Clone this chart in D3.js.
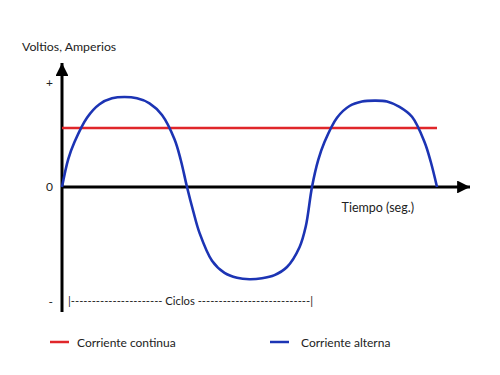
<!DOCTYPE html>
<html>
<head>
<meta charset="utf-8">
<script src="https://cdn.jsdelivr.net/npm/d3@7"></script>
<style>
  body { margin: 0; background: #fff; }
  text { font-family: Lato, "Open Sans", sans-serif; fill: #222; }
</style>
</head>
<body>
<svg id="chart" width="500" height="375"></svg>
<script>
// datos (tiempo en semiciclos, valor relativo)
var tiempoAlterna = [0, 0.05, 0.1, 0.2, 0.3, 0.4, 0.5, 0.6, 0.7, 0.8, 0.9, 0.95,
                     1.0, 1.05, 1.1, 1.2, 1.3, 1.4, 1.5, 1.6, 1.7, 1.8, 1.9, 1.95,
                     2.0, 2.05, 2.1, 2.2, 2.3, 2.4, 2.5, 2.6, 2.7, 2.8, 2.9, 2.95, 3.0];
var valorAlterna = [0, 0.31, 0.50, 0.77, 0.92, 0.985, 1.0, 0.985, 0.93, 0.80, 0.53, 0.30,
                    0, -0.27, -0.51, -0.82, -0.955, -1.01, -1.026, -1.015, -0.98, -0.89, -0.67, -0.44,
                    0, 0.30, 0.50, 0.77, 0.90, 0.95, 0.96, 0.95, 0.89, 0.78, 0.50, 0.28, 0];
var tiempoContinua = [0, 3.0];
var valorContinua = [0.655, 0.655];

var yTicks = [1.16, 0, -1.27];
var yTickLabels = ["+", "0", "-"];
var series = ["Corriente continua", "Corriente alterna"];
var colores = ["#e0262a", "#1c34b4"];

var svg = d3.select("#chart");

// escalas
var x = d3.scaleLinear().domain([0, 3.264]).range([62, 470]);
var y = d3.scaleLinear().domain([-1.39, 1.378]).range([312, 63]);

// ejes (flechas)
svg.append("defs").append("marker")
  .attr("id", "flecha")
  .attr("viewBox", "0 0 10 10")
  .attr("refX", 10).attr("refY", 5)
  .attr("markerWidth", 4.3).attr("markerHeight", 4.3)
  .attr("markerUnits", "strokeWidth")
  .attr("orient", "auto")
  .append("path")
  .attr("d", "M0,0 L10,5 L0,10 Z")
  .attr("fill", "#000");

svg.append("line")
  .attr("x1", x(0)).attr("x2", x(0))
  .attr("y1", y(-1.39)).attr("y2", y(1.378))
  .attr("stroke", "#000").attr("stroke-width", 3)
  .attr("marker-end", "url(#flecha)");

svg.append("line")
  .attr("x1", x(0)).attr("x2", x(3.264))
  .attr("y1", y(0)).attr("y2", y(0))
  .attr("stroke", "#000").attr("stroke-width", 3)
  .attr("marker-end", "url(#flecha)");

// etiquetas del eje y
var ejeY = svg.append("g")
  .attr("transform", "translate(" + x(0) + ",0)")
  .call(d3.axisLeft(y).tickValues(yTicks)
    .tickFormat(function(d, i) { return yTickLabels[i]; })
    .tickSize(0).tickPadding(9));
ejeY.select(".domain").remove();
ejeY.selectAll("text").style("font-size", "12px").style("font-family", "Lato, sans-serif").attr("fill", "#222");

// curvas
var linea = d3.line()
  .x(function(d) { return x(d[0]); })
  .y(function(d) { return y(d[1]); });

svg.append("path")
  .datum(d3.zip(tiempoContinua, valorContinua))
  .attr("d", linea)
  .attr("fill", "none")
  .attr("stroke", colores[0])
  .attr("stroke-width", 2.5);

svg.append("path")
  .datum(d3.zip(tiempoAlterna, valorAlterna))
  .attr("d", linea.curve(d3.curveCatmullRom))
  .attr("fill", "none")
  .attr("stroke", colores[1])
  .attr("stroke-width", 2.6);

// textos
svg.append("text").attr("x", 22).attr("y", 51)
  .style("font-size", "12.3px").text("Voltios, Amperios");

svg.append("text").attr("x", 414).attr("y", 212)
  .attr("text-anchor", "end")
  .style("font-size", "12.5px").text("Tiempo (seg.)");

svg.append("text").attr("x", 68).attr("y", 305)
  .attr("textLength", 245).attr("lengthAdjust", "spacingAndGlyphs")
  .style("font-size", "12px")
  .text("|---------------------- Ciclos ---------------------------|");

// leyenda
var leyenda = svg.selectAll(".leyenda")
  .data(series)
  .enter().append("g")
  .attr("class", "leyenda")
  .attr("transform", function(d, i) { return "translate(" + [50, 270][i] + ",342)"; });

leyenda.append("line")
  .attr("x1", 0).attr("x2", 19)
  .attr("stroke", function(d, i) { return colores[i]; })
  .attr("stroke-width", 2.5);

leyenda.append("text")
  .attr("x", function(d, i) { return [27, 31][i]; })
  .attr("y", 4.5)
  .style("font-size", "12px")
  .text(function(d) { return d; });
</script>
</body>
</html>
